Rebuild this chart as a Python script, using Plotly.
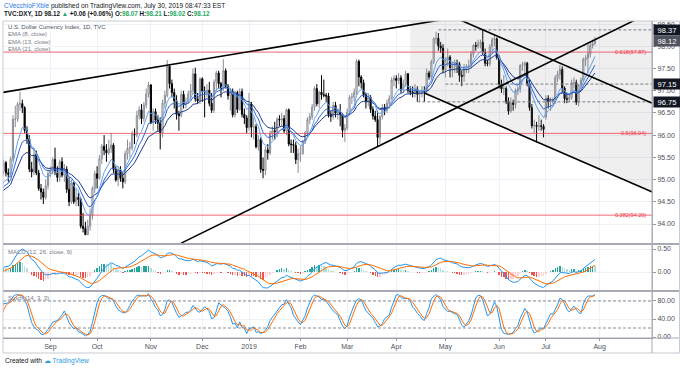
import numpy as np
import pandas as pd
import plotly.graph_objects as go

# ---------------- data ----------------
HOLIDAYS = ["2018-12-25", "2019-01-01", "2019-04-19"]

OPEN = [
    94.50,94.80,94.60,94.60,94.18, 94.00,94.09,94.20,94.75,94.85, 94.67,94.48,95.07,95.10,95.00, 94.45,94.60,94.50,94.30,94.68, 94.68,94.35,
    94.53,94.68,95.17, 95.19,95.38,95.15,95.12,95.46, 96.36,96.36,96.70,96.71,96.62, 96.11,95.92,95.24,95.17,95.57, 95.15,94.80,94.72,94.60,94.86,
    95.14,95.20,95.45,95.17,95.05, 95.40,95.10,95.23,94.78,94.50, 94.92,94.50,94.60,94.55,93.95, 93.90,93.76,93.95,94.20,94.80,
    95.13,95.03,95.47,95.75,95.66, 95.60,95.70,95.78,95.23,94.99, 95.22,95.03,94.95,95.58,95.70, 95.72,96.02,96.01,96.44,96.57, 96.37,96.68,96.93,
    97.13,96.28, 96.53,96.34,96.27,96.06,96.72, 96.90,97.55,97.16,96.96,96.77, 96.47,96.44,96.92,96.69,96.74, 96.93,97.00,97.38,96.82,96.77,
    97.27,96.99,96.97,97.01,96.72, 96.56,97.19,97.40,97.16,97.04, 97.45,97.10,96.89,96.98,96.46, 96.96,96.58,96.98,96.47,96.39,
    96.17,96.70,96.18, 96.19,95.74,95.90,95.23,95.21, 95.67,95.60,96.04,96.10,96.08, 96.36,96.34,96.37,96.10,96.57, 95.80,95.79,95.77,95.45,
    95.58, 95.59,95.86,96.05,96.35,96.42, 96.63,97.05,96.71,96.97,96.91, 96.90,96.88,96.47,96.42,96.67, 96.50,96.51,96.46,96.11,
    96.16, 96.52,96.85,96.86,96.97,97.66, 97.31,97.18,96.91,96.75,96.85, 96.58,96.43,96.35,95.95,96.42, 96.62,96.56,96.72,96.83,97.24,
    97.28,97.23,97.29,97.02,97.16, 97.38,97.00,96.97,96.95,97.04, 96.92,96.94,97.00,96.99, 97.40,97.31,97.65,98.17,98.18, 98.01,97.96,
    97.48,97.69,97.76, 97.52,97.55,97.62,97.61,97.35, 97.32,97.52,97.53,97.56,97.83, 98.02,98.00,98.06,98.09,97.86, 97.62,97.61,97.99,98.15,98.17,
    97.75,97.15,97.04,97.05,96.76, 96.54,96.73,96.69,97.00,97.04, 97.57,97.58,97.62,97.16,96.62, 96.21,96.22,96.20,96.21,96.20,
    96.40,96.83,96.75,96.76,96.78, 97.29,97.37,97.48,97.06,96.82, 96.81,96.85,97.18,97.18,96.74, 97.13,97.24,97.70,97.73,97.83, 98.02,98.07,
]
HIGH = [
    94.95,94.90,94.70,94.65,94.30, 94.10,94.30,94.80,95.00,95.00, 94.70,95.10,95.30,95.65,95.05, 94.70,94.75,94.65,94.75,94.80, 94.70,94.60,
    94.85,95.30,95.38, 95.45,95.42,95.25,95.52,96.45, 96.66,96.75,96.98,96.80,96.65, 96.20,96.00,95.40,95.70,95.65, 95.22,94.90,94.80,95.00,95.20,
    95.30,95.50,95.72,95.30,95.45, 95.50,95.35,95.30,95.05,95.00, 94.95,94.80,94.70,94.60,94.25, 94.05,94.10,94.35,94.85,95.20,
    95.30,95.55,95.80,96.00,95.80, 95.90,96.05,95.82,95.30,95.30, 95.30,95.15,95.65,95.90,95.85, 96.10,96.15,96.55,96.65,96.70, 96.75,97.05,97.20,
    97.15,96.60, 96.60,96.45,96.40,96.80,97.00, 97.69,97.60,97.25,97.05,96.90, 96.55,97.00,97.00,96.85,97.00, 97.15,97.50,97.52,96.95,97.30,
    97.30,97.10,97.15,97.20,96.95, 97.25,97.45,97.45,97.20,97.71, 97.50,97.15,97.05,97.05,97.00, 97.00,97.05,97.05,96.60,96.45,
    96.95,96.75,96.40, 96.25,96.00,95.95,95.50,95.75, 95.80,96.10,96.20,96.30,96.40, 96.45,96.50,96.45,96.60,96.60, 95.90,95.90,95.85,95.70,
    95.75, 95.90,96.10,96.40,96.50,96.70, 97.10,97.15,97.00,97.35,97.25, 96.95,96.95,96.55,96.75,96.75, 96.60,96.70,96.50,96.25,
    96.60, 96.90,96.95,97.05,97.71,97.70, 97.35,97.25,96.95,96.95,96.90, 96.65,96.55,96.55,96.45,96.70, 96.70,96.80,96.90,97.30,97.35,
    97.35,97.40,97.35,97.25,97.45, 97.40,97.10,97.10,97.15,97.10, 97.00,97.10,97.10,97.50, 97.45,97.70,98.20,98.33,98.30, 98.10,98.05,
    97.75,97.95,97.80, 97.65,97.70,97.70,97.65,97.45, 97.60,97.60,97.70,97.90,98.05, 98.10,98.15,98.15,98.37,97.95, 97.70,98.05,98.20,98.25,98.20,
    97.80,97.25,97.35,97.10,96.85, 96.85,96.80,97.05,97.10,97.60, 97.65,97.66,97.65,97.25,96.70, 96.35,96.30,96.45,96.35,96.25,
    96.90,96.90,96.85,96.85,97.35, 97.45,97.58,97.55,97.10,96.95, 96.95,97.25,97.30,97.25,97.15, 97.30,97.75,97.80,98.05,98.10, 98.15,98.21,
]
LOW = [
    94.45,94.50,94.45,94.10,93.70, 93.85,94.00,94.15,94.60,94.55, 94.40,94.40,94.95,94.90,94.40, 94.30,94.30,94.05,94.25,94.50, 94.25,94.25,
    94.45,94.60,95.00, 95.10,95.07,94.95,95.05,95.40, 96.18,96.30,96.55,96.50,96.05, 95.80,95.17,95.05,95.10,95.10, 94.75,94.55,94.45,94.55,94.78,
    95.05,95.12,95.10,94.95,94.95, 95.05,94.95,94.70,94.40,94.45, 94.45,94.40,94.40,93.90,93.81, 93.75,93.75,93.85,94.10,94.70,
    94.80,95.00,95.35,95.55,95.40, 95.55,95.60,95.15,94.95,94.85, 94.95,94.80,94.90,95.45,95.50, 95.65,95.80,95.95,96.35,96.25, 96.30,96.60,96.85,
    96.25,96.10, 96.25,96.10,95.68,95.95,96.60, 96.85,97.05,96.85,96.60,96.35, 96.10,96.40,96.60,96.60,96.70, 96.80,96.95,96.75,96.70,96.70,
    96.75,96.40,96.85,96.65,96.50, 96.50,97.00,97.05,96.85,97.00, 97.05,96.80,96.55,96.40,96.40, 96.50,96.55,96.40,96.25,96.05,
    96.10,95.95,95.90, 95.70,95.65,95.15,95.03,95.10, 95.45,95.55,95.90,95.90,95.95, 96.20,96.20,96.05,96.00,95.75, 95.60,95.60,95.35,95.15,
    95.40, 95.55,95.80,95.95,96.25,96.35, 96.55,96.65,96.60,96.80,96.85, 96.75,96.40,96.30,96.35,96.40, 96.35,96.20,95.95,95.85,
    96.10, 96.45,96.70,96.75,96.90,97.10, 97.05,96.85,96.60,96.65,96.50, 96.35,96.30,95.74,95.80,96.35, 96.45,96.50,96.60,96.80,97.10,
    97.05,97.15,96.95,96.95,97.10, 96.95,96.90,96.85,96.85,96.75, 96.75,96.85,96.75,96.95, 97.25,97.25,97.60,98.05,97.90, 97.85,97.40,
    97.30,97.55,97.30, 97.30,97.40,97.40,97.20,97.10, 97.20,97.40,97.40,97.50,97.75, 97.90,97.95,97.95,97.80,97.55, 97.55,97.55,97.85,98.00,97.70,
    97.05,96.95,96.90,96.70,96.46, 96.50,96.55,96.60,96.90,96.95, 97.45,97.35,97.10,96.55,96.15, 96.05,95.84,96.10,96.10,95.95,
    96.35,96.60,96.55,96.70,96.70, 97.20,97.25,96.95,96.72,96.72, 96.75,96.80,97.05,96.68,96.65, 97.05,97.20,97.55,97.40,97.75, 97.95,98.02,
]
CLOSE = [
    94.80,94.60,94.60,94.18,94.00, 94.09,94.20,94.75,94.85,94.67, 94.48,95.07,95.10,95.00,94.45, 94.60,94.50,94.30,94.68,94.68, 94.35,94.53,
    94.68,95.17,95.19, 95.38,95.15,95.12,95.46,96.36, 96.36,96.70,96.71,96.62,96.11, 95.92,95.24,95.17,95.57,95.15, 94.80,94.72,94.60,94.86,95.14,
    95.20,95.45,95.17,95.05,95.40, 95.10,95.23,94.78,94.50,94.92, 94.50,94.60,94.55,93.95,93.90, 93.76,93.95,94.20,94.80,95.13,
    95.03,95.47,95.75,95.66,95.60, 95.70,95.78,95.23,94.99,95.22, 95.03,94.95,95.58,95.70,95.72, 96.02,96.01,96.44,96.57,96.37, 96.68,96.93,97.13,
    96.28,96.53, 96.34,96.27,96.06,96.72,96.90, 97.55,97.16,96.96,96.77,96.47, 96.44,96.92,96.69,96.74,96.93, 97.00,97.38,96.82,96.77,97.27,
    96.99,96.97,97.01,96.72,96.56, 97.19,97.40,97.16,97.04,97.45, 97.10,96.89,96.98,96.46,96.96, 96.58,96.98,96.47,96.39,96.17,
    96.70,96.18,96.19, 95.74,95.90,95.23,95.21,95.67, 95.60,96.04,96.10,96.08,96.36, 96.34,96.37,96.10,96.57,95.80, 95.79,95.77,95.45,95.58,
    95.59, 95.86,96.05,96.35,96.42,96.63, 97.05,96.71,96.97,96.91,96.90, 96.88,96.47,96.42,96.67,96.50, 96.51,96.46,96.11,96.16,
    96.52, 96.85,96.86,96.97,97.66,97.31, 97.18,96.91,96.75,96.85,96.58, 96.43,96.35,95.95,96.42,96.62, 96.56,96.72,96.83,97.24,97.28,
    97.23,97.29,97.02,97.16,97.38, 97.00,96.97,96.95,97.04,96.92, 96.94,97.00,96.99,97.40, 97.31,97.65,98.17,98.18,98.01, 97.96,97.48,
    97.69,97.76,97.52, 97.55,97.62,97.61,97.35,97.32, 97.52,97.53,97.56,97.83,98.02, 98.00,98.06,98.09,97.86,97.62, 97.61,97.99,98.15,98.17,97.75,
    97.15,97.04,97.05,96.76,96.54, 96.73,96.69,97.00,97.04,97.57, 97.58,97.62,97.16,96.62,96.21, 96.22,96.20,96.21,96.20,96.13,
    96.83,96.75,96.76,96.78,97.29, 97.37,97.48,97.06,96.82,96.81, 96.85,97.18,97.18,96.74,97.13, 97.24,97.70,97.73,97.83,98.02, 98.06,98.12,
]

TICK_DATES = ["2018-09-03", "2018-10-01", "2018-11-01", "2018-12-03", "2019-01-02", "2019-02-01",
              "2019-03-01", "2019-04-01", "2019-05-01", "2019-06-03", "2019-07-01", "2019-08-01"]
TICK_TEXT = ["Sep", "Oct", "Nov", "Dec", "2019", "Feb", "Mar", "Apr", "May", "Jun", "Jul", "Aug"]

PRICE_TICKS = [94.0, 94.5, 95.0, 95.5, 96.0, 96.5, 97.0, 97.5, 98.0, 98.5]

# drawings (date, price anchors)
WEDGE_TOP = [("2018-08-01", 96.94), ("2019-05-01", 98.61)]
WEDGE_BOTTOM = [("2018-11-20", 93.57), ("2019-08-26", 98.64)]
CHANNEL_TOP = [("2019-05-09", 98.60), ("2019-09-03", 96.71)]
CHANNEL_BOTTOM = [("2019-04-17", 96.95), ("2019-09-03", 94.71)]
CHANNEL_FILL = [("2019-04-09", 98.70), ("2019-09-03", 98.70), ("2019-09-03", 94.71),
                ("2019-04-17", 96.95), ("2019-04-09", 96.95)]
DASHED_LEVELS = [98.37, 97.15, 96.75]
DASHED_STARTS = ["2019-04-26", "2019-05-01", "2019-04-12"]
FIB_LEVELS = [97.87, 96.04, 94.20]
FIB_LABELS = ["0.618(97.87)", "0.5(96.04)", "0.382(94.20)"]
PRICE_TAGS = [98.37, 98.12, 97.15, 96.75]
PRICE_TAG_BG = ["#131722", "#50535e", "#131722", "#131722"]
LINE_END = "2019-09-04"
LINE_START = "2018-07-02"

# ---------------- derived ----------------
dates = [d for d in pd.bdate_range("2018-07-02", "2019-07-30") if d.strftime("%Y-%m-%d") not in HOLIDAYS]
assert len(dates) == len(CLOSE) == len(OPEN) == len(HIGH) == len(LOW), (len(dates), len(CLOSE), len(OPEN), len(HIGH), len(LOW))

close = pd.Series(CLOSE, index=dates)
high = pd.Series(HIGH, index=dates)
low = pd.Series(LOW, index=dates)

ema8 = close.ewm(span=8, adjust=False).mean()
ema13 = close.ewm(span=13, adjust=False).mean()
ema21 = close.ewm(span=21, adjust=False).mean()
macd = close.ewm(span=12, adjust=False).mean() - close.ewm(span=26, adjust=False).mean()
signal = macd.ewm(span=9, adjust=False).mean()
hist = macd - signal
hcol = []
prev = 0.0
for h in hist.values:
    if h >= 0:
        hcol.append("#26a69a" if h > prev else "#b2dfdb")
    else:
        hcol.append("#ffcdd2" if h > prev else "#ef5350")
    prev = h
ll = low.rolling(14, min_periods=1).min()
hh = high.rolling(14, min_periods=1).max()
kraw = 100 * (close - ll) / (hh - ll)
k = kraw.rolling(3, min_periods=1).mean()
d = k.rolling(3, min_periods=1).mean()

# ---------------- figure ----------------
W, H = 680, 369
L, R, T, B = 3, 28, 21, 31
PW, PH = W - L - R, H - T - B


def py(ypx):
    return (H - B - ypx) / PH


def pxx(xpx):
    return (xpx - L) / PW


FONT = "Liberation Sans, Arial, sans-serif"
fig = go.Figure()

# channel fill
fig.add_trace(go.Scatter(x=[p[0] for p in CHANNEL_FILL], y=[p[1] for p in CHANNEL_FILL],
                         fill="toself", fillcolor="rgba(120,123,134,0.12)", line=dict(width=0),
                         mode="lines", hoverinfo="skip", xaxis="x", yaxis="y"))
# fib lines
for lv in FIB_LEVELS:
    fig.add_trace(go.Scatter(x=[LINE_START, LINE_END], y=[lv, lv], mode="lines",
                             line=dict(color="rgba(242,54,69,0.75)", width=1), hoverinfo="skip"))
# dashed levels
for lv, st in zip(DASHED_LEVELS, DASHED_STARTS):
    fig.add_trace(go.Scatter(x=[st, LINE_END], y=[lv, lv], mode="lines",
                             line=dict(color="#7b7e88", width=1, dash="3px,2px"), hoverinfo="skip"))

# candles
fig.add_trace(go.Candlestick(x=dates, open=OPEN, high=HIGH, low=LOW, close=CLOSE,
                             increasing=dict(line=dict(color="#8a8d96", width=1), fillcolor="#ffffff"),
                             decreasing=dict(line=dict(color="#000000", width=1), fillcolor="#000000"),
                             whiskerwidth=0, hoverinfo="skip", xaxis="x", yaxis="y"))
# EMAs
for s, c in [(ema21, "#1c3a8f"), (ema13, "#2f63d1"), (ema8, "#63a1f0")]:
    fig.add_trace(go.Scatter(x=dates, y=s.values, mode="lines", line=dict(color=c, width=1),
                             hoverinfo="skip"))
# trend lines
for ln in [WEDGE_TOP, WEDGE_BOTTOM, CHANNEL_TOP, CHANNEL_BOTTOM]:
    fig.add_trace(go.Scatter(x=[p[0] for p in ln], y=[p[1] for p in ln], mode="lines",
                             line=dict(color="#000000", width=1.6), hoverinfo="skip"))

# MACD
fig.add_trace(go.Bar(x=dates, y=hist.values, marker=dict(color=hcol, line=dict(width=0)),
                     width=86400000 * 0.6, yaxis="y2", hoverinfo="skip"))
fig.add_trace(go.Scatter(x=dates, y=macd.values, mode="lines", line=dict(color="#2196f3", width=1),
                         yaxis="y2", hoverinfo="skip"))
fig.add_trace(go.Scatter(x=dates, y=signal.values, mode="lines", line=dict(color="#ff6d00", width=1),
                         yaxis="y2", hoverinfo="skip"))
# Stoch
fig.add_trace(go.Scatter(x=dates, y=k.values, mode="lines", line=dict(color="#2196f3", width=1),
                         yaxis="y3", hoverinfo="skip"))
fig.add_trace(go.Scatter(x=dates, y=d.values, mode="lines", line=dict(color="#ff6d00", width=1),
                         yaxis="y3", hoverinfo="skip"))

grid = "#eef1f7"
axis_font = dict(family=FONT, size=7, color="#4c525e")
yax_common = dict(side="right", showgrid=True, gridcolor=grid, zeroline=False, ticks="outside",
                  ticklen=3, tickcolor="#9598a1", tickfont=axis_font, anchor="x", fixedrange=True,
                  showline=True, linecolor="#b2b5be", linewidth=1)

fig.update_layout(
    width=W, height=H, margin=dict(l=L, r=R, t=T, b=B, pad=0),
    paper_bgcolor="white", plot_bgcolor="white", showlegend=False,
    font=dict(family=FONT),
    bargap=0,
    xaxis=dict(type="date", range=["2018-08-03 17:45", "2019-09-02 09:36"],
               rangebreaks=[dict(bounds=["sat", "mon"]), dict(values=HOLIDAYS)],
               tickvals=TICK_DATES, ticktext=TICK_TEXT, tickfont=axis_font,
               ticks="outside", ticklen=2, tickcolor="#9598a1",
               showgrid=True, gridcolor=grid, showline=True, linecolor="#9598a1",
               anchor="y3", rangeslider=dict(visible=False), fixedrange=True),
    yaxis=dict(domain=[py(244), 1], range=[93.55, 98.57], tickvals=PRICE_TICKS,
               ticktext=[f"{v:.2f}" for v in PRICE_TICKS], **yax_common),
    yaxis2=dict(domain=[py(291), py(244)], range=[-0.413, 0.609], tickvals=[0, 0.5],
                ticktext=["0.00", "0.50"], **yax_common),
    yaxis3=dict(domain=[0, py(291)], range=[-2.2, 102.2], tickvals=[0, 40, 80],
                ticktext=["0.00", "40.00", "80.00"], **yax_common),
)

shapes = []
# stoch bands
for lv in [80, 20]:
    shapes.append(dict(type="line", xref="paper", yref="y3", x0=0, x1=1, y0=lv, y1=lv,
                       line=dict(color="#8a8d96", width=1, dash="3px,2px")))
# panel separators
for ypx in [244, 291]:
    shapes.append(dict(type="line", xref="paper", yref="paper", x0=pxx(3), x1=pxx(679),
                       y0=py(ypx), y1=py(ypx), line=dict(color="#a7aab3", width=2)))
# frame
shapes.append(dict(type="rect", xref="paper", yref="paper", x0=pxx(3), x1=pxx(679.5),
                   y0=py(353), y1=py(21), line=dict(color="#c8cbd3", width=1)))
shapes.append(dict(type="line", xref="paper", yref="paper", x0=pxx(3), x1=pxx(679),
                   y0=py(338), y1=py(338), line=dict(color="#a7aab3", width=1)))
shapes.append(dict(type="line", xref="paper", yref="paper", x0=1, x1=1,
                   y0=py(353), y1=py(21), line=dict(color="#a7aab3", width=1)))
fig.update_layout(shapes=shapes)

ann = []
# header
ann.append(dict(xref="paper", yref="paper", x=pxx(2), y=py(5.5), xanchor="left", yanchor="middle",
                showarrow=False, font=dict(family=FONT, size=6.6, color="#131722"),
                text="<span style='color:#2a7ae2'>CVecchioFXble</span> published on TradingView.com, July 30, 2019 08:47:33 EST"))
g = "#1ea861"
ann.append(dict(xref="paper", yref="paper", x=pxx(2), y=py(14), xanchor="left", yanchor="middle",
                showarrow=False, font=dict(family=FONT, size=6.3, color="#131722"),
                text=("<b>TVC:DXY, 1D 98.12 <span style='color:%s'>▲</span> +0.06 (+0.06%%) "
                      "O:<span style='color:%s'>98.07</span> H:<span style='color:%s'>98.21</span> "
                      "L:<span style='color:%s'>98.02</span> C:<span style='color:%s'>98.12</span></b>") % (g, g, g, g, g)))
# legend texts
for ypx, txt, col in [(26.5, "U.S. Dollar Currency Index, 1D, TVC", "#4c525e"),
                      (34, "EMA (8, close)", "#787b86"),
                      (41.5, "EMA (13, close)", "#787b86"),
                      (49, "EMA (21, close)", "#787b86")]:
    ann.append(dict(xref="paper", yref="paper", x=pxx(6), y=py(ypx), xanchor="left", yanchor="middle",
                    showarrow=False, font=dict(family=FONT, size=6, color=col), text=txt))
ann.append(dict(xref="paper", yref="paper", x=pxx(6), y=py(252), xanchor="left", yanchor="middle",
                showarrow=False, font=dict(family=FONT, size=6, color="#787b86"), text="MACD (12, 26, close, 9)"))
ann.append(dict(xref="paper", yref="paper", x=pxx(6), y=py(298), xanchor="left", yanchor="middle",
                showarrow=False, font=dict(family=FONT, size=6, color="#787b86"), text="Stoch (14, 3, 3)"))
# fib labels
for lv, txt in zip(FIB_LEVELS, FIB_LABELS):
    ann.append(dict(xref="paper", yref="y", x=pxx(648), y=lv, xanchor="right", yanchor="middle",
                    showarrow=False, font=dict(family=FONT, size=5.5, color="#f23645"), text=txt))
# price tags
for lv, bg in zip(PRICE_TAGS, PRICE_TAG_BG):
    ann.append(dict(xref="paper", yref="y", x=1, y=lv, xanchor="left", yanchor="middle", xshift=1,
                    showarrow=False, font=dict(family=FONT, size=7.5, color="white"),
                    text=f"{lv:.2f}", bgcolor=bg, width=26, height=10, borderpad=0))
# footer
ann.append(dict(xref="paper", yref="paper", x=pxx(3), y=py(361), xanchor="left", yanchor="middle",
                showarrow=False, font=dict(family=FONT, size=6.6, color="#131722"),
                text="Created with <span style='color:#2a9ae2'>☁ TradingView</span>"))
fig.update_layout(annotations=ann)

fig.write_html("out.html", config={"displayModeBar": False, "staticPlot": True},
               post_script="document.body.style.margin='0px';document.body.style.padding='0px';")
